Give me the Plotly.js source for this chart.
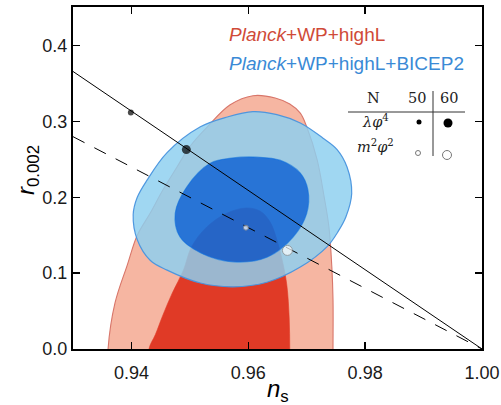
<!DOCTYPE html>
<html>
<head>
<meta charset="utf-8">
<script src="https://cdn.plot.ly/plotly-3.0.1.min.js"></script>
<style>
  html, body { margin: 0; padding: 0; background: #fff; }
  #chart { width: 501px; height: 405px; }
</style>
</head>
<body>
<div id="chart"></div>
<script>
// Planck+WP+highL contours (outer 95%, inner 68%) in the (n_s, r) plane
const redOuterNs = [0.9745, 0.9745, 0.9745, 0.9743, 0.9738, 0.9730, 0.9718, 0.9700, 0.9689, 0.9671, 0.9646, 0.9608, 0.9569, 0.9530, 0.9500, 0.9478, 0.9454, 0.9432, 0.9410, 0.9393, 0.9372, 0.9360, 0.9360];
const redOuterR  = [-0.04, 0.000, 0.065, 0.108, 0.161, 0.200, 0.249, 0.293, 0.311, 0.323, 0.331, 0.334, 0.322, 0.293, 0.267, 0.240, 0.210, 0.179, 0.150, 0.111, 0.061, 0.000, -0.04];
const redInnerNs = [0.9671, 0.9671, 0.9670, 0.9666, 0.9659, 0.9649, 0.9637, 0.9620, 0.9596, 0.9563, 0.9529, 0.9503, 0.9489, 0.9470, 0.9454, 0.9441, 0.9430, 0.9430];
const redInnerR  = [-0.04, 0.000, 0.041, 0.084, 0.114, 0.144, 0.168, 0.182, 0.186, 0.179, 0.161, 0.135, 0.104, 0.074, 0.045, 0.019, 0.000, -0.04];

// Planck+WP+highL+BICEP2 contours
const blueOuterNs = [0.9608, 0.9649, 0.9689, 0.9728, 0.9752, 0.9769, 0.9777, 0.9767, 0.9753, 0.9735, 0.9689, 0.9632, 0.9574, 0.9518, 0.9461, 0.9432, 0.9410, 0.9403, 0.9410, 0.9427, 0.9461, 0.9518, 0.9564, 0.9608];
const blueOuterR  = [0.313, 0.309, 0.298, 0.278, 0.263, 0.240, 0.205, 0.174, 0.154, 0.135, 0.108, 0.088, 0.082, 0.087, 0.104, 0.117, 0.144, 0.177, 0.200, 0.223, 0.259, 0.293, 0.306, 0.313];
const blueInnerNs = [0.9615, 0.9654, 0.9689, 0.9702, 0.9700, 0.9677, 0.9632, 0.9574, 0.9518, 0.9483, 0.9475, 0.9495, 0.9535, 0.9574, 0.9615];
const blueInnerR  = [0.253, 0.249, 0.232, 0.210, 0.179, 0.148, 0.121, 0.115, 0.127, 0.148, 0.179, 0.214, 0.245, 0.252, 0.253];

// Model predictions: lambda phi^4 (solid) and m^2 phi^2 (dashed)
const lineNs = [0.93, 1.00];
const phi4LineR = [0.366, 0.0];
const phi2LineR = [0.280, 0.0];
const efolds = [50, 60];
const phi4Ns = [0.9399, 0.9494];
const phi4R  = [0.312, 0.263];
const phi2Ns = [0.9596, 0.9667];
const phi2R  = [0.160, 0.130];

// Axis ticks
const xTicks = [0.94, 0.96, 0.98, 1.00];
const xTickText = ['0.94', '0.96', '0.98', '1.00'];
const yTicks = [0.0, 0.1, 0.2, 0.3, 0.4];
const yTickText = ['0.0', '0.1', '0.2', '0.3', '0.4'];

const contour = (xs, ys, fill, edge, width) => ({
  type: 'scatter', mode: 'lines', x: xs, y: ys,
  fill: 'toself', fillcolor: fill,
  line: { color: edge, width: width, shape: 'spline', smoothing: 1 },
  hoverinfo: 'skip', showlegend: false
});

// 95% band drawn as a ring: outer boundary, gap, inner boundary traced the other way round
const ring = (oxs, oys, ixs, iys) => ({
  x: oxs.concat([null], ixs.slice().reverse()),
  y: oys.concat([null], iys.slice().reverse())
});
const blueRing = ring(blueOuterNs, blueOuterR, blueInnerNs, blueInnerR);

const traces = [
  contour(redOuterNs, redOuterR, '#f6b6a2', '#d8766a', 1.1),
  contour(redInnerNs, redInnerR, '#e03a26', '#e03a26', 0.6),
  Object.assign(contour(blueRing.x, blueRing.y, 'rgba(142,207,240,0.84)', 'rgba(72,148,222,0.95)', 1.2), { connectgaps: false }),
  contour(blueInnerNs, blueInnerR, 'rgba(11,107,221,0.88)', 'rgba(11,107,221,0)', 0),
  { type: 'scatter', mode: 'lines', x: lineNs, y: phi4LineR,
    line: { color: '#000', width: 1 }, hoverinfo: 'skip', showlegend: false },
  { type: 'scatter', mode: 'lines', x: lineNs, y: phi2LineR,
    line: { color: '#000', width: 1, dash: '13px,11px' }, hoverinfo: 'skip', showlegend: false },
  { type: 'scatter', mode: 'markers', x: phi4Ns, y: phi4R, text: efolds,
    marker: { color: '#000', size: [6, 9], line: { width: 0 } },
    hoverinfo: 'skip', showlegend: false },
  { type: 'scatter', mode: 'markers', x: phi2Ns, y: phi2R, text: efolds,
    marker: { color: '#fff', size: [5, 10], line: { color: '#8a8a8a', width: 1 } },
    hoverinfo: 'skip', showlegend: false }
];

// plot-area geometry helpers (paper coordinates from pixel offsets)
const M = { l: 73, r: 19, t: 7, b: 56 };
const W = 501, H = 405;
const pw = W - M.l - M.r, ph = H - M.t - M.b;
const px = v => (v - M.l) / pw;
const py = v => (H - M.b - v) / ph;

const serif = { family: 'DejaVu Serif', size: 14.5, color: '#222' };
const note = (text, x, y, font, xanchor) => ({
  xref: 'paper', yref: 'paper', x: px(x), y: py(y), text: text,
  showarrow: false, xanchor: xanchor || 'center', yanchor: 'middle', font: font
});
const dot = (x, y, d, fill, edge) => ({
  type: 'circle', xref: 'paper', yref: 'paper',
  xsizemode: 'pixel', ysizemode: 'pixel', xanchor: px(x), yanchor: py(y),
  x0: -d / 2, x1: d / 2, y0: -d / 2, y1: d / 2,
  fillcolor: fill, line: { color: edge, width: edge === fill ? 0 : 1 }
});

const legendFont = (c) => ({ family: 'Liberation Sans', size: 19, color: c });
const titleFont = { family: 'Liberation Sans', size: 24, color: '#000' };

const layout = {
  width: W, height: H,
  margin: M,
  paper_bgcolor: '#fff', plot_bgcolor: '#fff',
  font: { family: 'Liberation Sans', color: '#1a1a1a' },
  xaxis: {
    range: [0.93, 1.0], tickvals: xTicks, ticktext: xTickText,
    ticks: 'inside', ticklen: 7, tickwidth: 1.5, tickcolor: '#000',
    showline: true, linewidth: 2, linecolor: '#000', mirror: 'ticks',
    showgrid: false, zeroline: false, ticklabelstandoff: 6,
    tickfont: { family: 'Liberation Sans', size: 18, color: '#1a1a1a' }
  },
  yaxis: {
    range: [0, 0.451], tickvals: yTicks, ticktext: yTickText,
    ticks: 'inside', ticklen: 7, tickwidth: 1.5, tickcolor: '#000',
    showline: true, linewidth: 2, linecolor: '#000', mirror: 'ticks',
    showgrid: false, zeroline: false,
    tickfont: { family: 'Liberation Sans', size: 18, color: '#1a1a1a' }
  },
  annotations: [
    // axis titles
    note('<i>n</i><sub>s</sub>', 278, 390, titleFont),
    Object.assign(note('<i>r</i><sub>0.002</sub>', 27, 170, titleFont), { textangle: -90 }),
    // dataset labels
    note('<i>Planck</i>+WP+highL', 227, 34, legendFont('#d04a38'), 'left'),
    note('<i>Planck</i>+WP+highL+BICEP2', 227, 63, legendFont('#3a8ad6'), 'left'),
    // N table
    note('N', 373, 98, serif),
    note('50', 417, 98, serif),
    note('60', 449, 98, serif),
    note('<i>λφ</i><sup>4</sup>', 375, 121, serif),
    note('<i>m</i><sup>2</sup><i>φ</i><sup>2</sup>', 375, 146, serif)
  ],
  shapes: [
    { type: 'line', xref: 'paper', yref: 'paper', x0: px(348), x1: px(465), y0: py(112), y1: py(112), line: { color: '#333', width: 1 } },
    { type: 'line', xref: 'paper', yref: 'paper', x0: px(433), x1: px(433), y0: py(91), y1: py(156), line: { color: '#333', width: 1 } },
    dot(419, 122, 5, '#000', '#000'),
    dot(448, 123, 9, '#000', '#000'),
    dot(418, 153, 5, '#fff', '#777'),
    dot(447, 155, 9, '#fff', '#777')
  ]
};

Plotly.newPlot('chart', traces, layout, { displayModeBar: false, staticPlot: true });
</script>
</body>
</html>
